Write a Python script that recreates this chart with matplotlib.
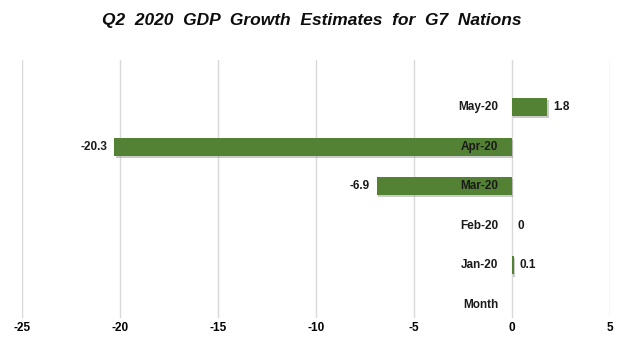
from matplotlib import pyplot as plt
from matplotlib import patheffects as pe
import numpy as np

months = ["Month", "Jan-20", "Feb-20", "Mar-20", "Apr-20", "May-20"]
growth = [None, 0.1, 0.0, -6.9, -20.3, 1.8]
xticks = [-25, -20, -15, -10, -5, 0, 5]

plt.rcParams["font.family"] = ["Liberation Sans", "DejaVu Sans"]

fig = plt.figure(figsize=(6.24, 3.55), dpi=100)
ax = fig.add_axes([22 / 624, 1 - 318 / 355, 588 / 624, 258 / 355])

ypos = np.arange(len(months))
vals = np.array([np.nan if v is None else v for v in growth])
bars = ax.barh(ypos, np.nan_to_num(vals), height=0.46, color="#548235", zorder=3)
for b in bars:
    b.set_path_effects([pe.SimplePatchShadow(offset=(1, -1.5), shadow_rgbFace="#8c8c8c", alpha=0.45), pe.Normal()])

# category labels sit just left of zero
for y, m in zip(ypos, months):
    ax.annotate(m, (0, y), xytext=(-10, 0), textcoords="offset points", ha="right", va="center",
                fontsize=8.5, fontweight="bold", color="#1a1a1a", zorder=5)

# value labels at the bar ends
for y, v in zip(ypos, growth):
    if v is None:
        continue
    if v < 0:
        ax.annotate(f"{v:g}", (v, y), xytext=(-5, 0), textcoords="offset points", ha="right", va="center",
                    fontsize=8.5, fontweight="bold", color="#1a1a1a")
    else:
        ax.annotate(f"{v:g}", (v, y), xytext=(4, 0), textcoords="offset points", ha="left", va="center",
                    fontsize=8.5, fontweight="bold", color="#1a1a1a")

ax.set_xlim(-25, 5)
ax.set_ylim(-0.33, 6.19)
ax.set_xticks(xticks)
ax.set_xticklabels([str(t) for t in xticks], fontsize=8.5, fontweight="bold")
ax.set_yticks([])
ax.tick_params(axis="x", length=0, pad=3)
for s in ax.spines.values():
    s.set_visible(False)
ax.grid(True, axis="x", color="#d9d9d9", linewidth=1, zorder=0)

fig.text(0.5, 1 - 20 / 355, "Q2  2020  GDP  Growth  Estimates  for  G7  Nations", ha="center", va="center",
         fontsize=12.5, fontweight="bold", fontstyle="italic", color="#0d0d0d")

fig.savefig("out.png", dpi=100)
